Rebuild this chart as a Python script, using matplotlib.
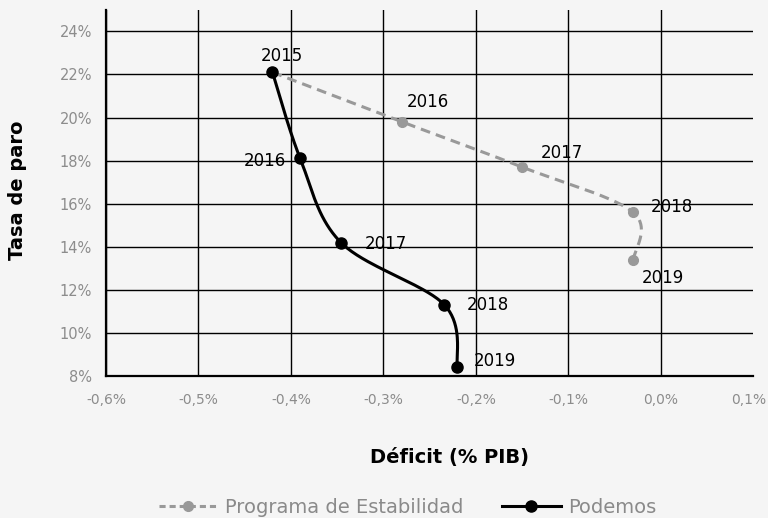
"""Tasa de paro vs deficit: Programa de Estabilidad frente a Podemos."""

import numpy as np
import matplotlib

matplotlib.use("Agg")
import matplotlib.pyplot as plt
import matplotlib.transforms as mtransforms
from matplotlib.ticker import FuncFormatter

plt.rcParams["font.family"] = ["DejaVu Sans"]

years = ["2015", "2016", "2017", "2018", "2019"]

# Programa de Estabilidad
pe_deficit = [-0.42, -0.28, -0.15, -0.03, -0.03]
pe_paro = [22.1, 19.8, 17.7, 15.6, 13.4]

# Podemos
pod_deficit = [-0.42, -0.39, -0.346, -0.234, -0.22]
pod_paro = [22.1, 18.1, 14.2, 11.3, 8.4]

x_ticks = [-0.6, -0.5, -0.4, -0.3, -0.2, -0.1, 0.0, 0.1]
y_ticks = [8, 10, 12, 14, 16, 18, 20, 22, 24]

# label offsets (points) and alignment for each year
pe_offsets = [None, (3.5, 14), (13.5, 10), (13, 4), (6.5, -13)]
pod_offsets = [(7, 12), (-10, -2), (17, -1), (16, 0), (11.5, 5)]
pod_align = ["center", "right", "left", "left", "left"]

BG = "#f5f5f5"
GRAY = "#999999"
TICK_GRAY = "#8c8c8c"


def smooth(ax, xs, ys, n=40):
    """Excel-like smoothed line (Catmull-Rom bezier) in display space."""
    pts = ax.transData.transform(np.column_stack([xs, ys]))
    ext = np.vstack([pts[0], pts, pts[-1]])
    out = []
    t = np.linspace(0, 1, n)[:, None]
    for i in range(len(pts) - 1):
        p0, p1, p2, p3 = ext[i], ext[i + 1], ext[i + 2], ext[i + 3]
        c1 = p1 + (p2 - p0) / 6
        c2 = p2 - (p3 - p1) / 6
        seg = ((1 - t) ** 3) * p1 + 3 * ((1 - t) ** 2) * t * c1 \
            + 3 * (1 - t) * t ** 2 * c2 + t ** 3 * p2
        out.append(seg if i == 0 else seg[1:])
    curve = ax.transData.inverted().transform(np.vstack(out))
    return curve[:, 0], curve[:, 1]


fig = plt.figure(figsize=(7.68, 5.18), dpi=100, facecolor=BG)
ax = fig.add_axes([0.138, 0.274, 0.843, 0.707], facecolor=BG)

ax.set_xlim(-0.6, 0.1)
ax.set_ylim(8, 25)
ax.set_xticks(x_ticks)
ax.set_yticks(y_ticks)
ax.xaxis.set_major_formatter(
    FuncFormatter(lambda v, p: f"{round(v, 1) + 0.0:.1f}%".replace(".", ","))
)
ax.yaxis.set_major_formatter(FuncFormatter(lambda v, p: f"{v:.0f}%"))
ax.tick_params(length=0, labelcolor=TICK_GRAY)
ax.tick_params(axis="y", pad=10, labelsize=10.5)
ax.tick_params(axis="x", pad=12, labelsize=10)

# keep the last x label inside the canvas
last = ax.xaxis.get_major_ticks()[-1].label1
last.set_transform(last.get_transform()
                   + mtransforms.ScaledTranslation(-5 / 100, 0, fig.dpi_scale_trans))

ax.grid(True, color="black", linewidth=1.0)
ax.set_axisbelow(True)
ax.xaxis.get_gridlines()[-1].set_visible(False)
for side in ("top", "right"):
    ax.spines[side].set_visible(False)
for side in ("left", "bottom"):
    ax.spines[side].set_linewidth(1.6)
    ax.spines[side].set_color("black")

# Programa de Estabilidad
sx, sy = smooth(ax, pe_deficit, pe_paro)
ax.plot(sx, sy, color=GRAY, linewidth=2.2, linestyle=(0, (3.2, 2)), zorder=3)
ax.plot(pe_deficit[1:], pe_paro[1:], "o", color=GRAY, markersize=7, zorder=4)

# Podemos
sx, sy = smooth(ax, pod_deficit, pod_paro)
ax.plot(sx, sy, color="black", linewidth=2.2, zorder=5)
ax.plot(pod_deficit, pod_paro, "o", color="black", markersize=8, zorder=6)

for i, yr in enumerate(years):
    if pe_offsets[i] is not None:
        ax.annotate(yr, (pe_deficit[i], pe_paro[i]), xytext=pe_offsets[i],
                    textcoords="offset points", ha="left", va="center",
                    fontsize=12, color="black", zorder=7)
    ax.annotate(yr, (pod_deficit[i], pod_paro[i]), xytext=pod_offsets[i],
                textcoords="offset points", ha=pod_align[i], va="center",
                fontsize=12, color="black", zorder=7)

fig.text(450 / 768, 1 - 457 / 518, "Déficit (% PIB)", ha="center", va="center",
         fontsize=14, fontweight="bold", color="black")
fig.text(18 / 768, 1 - 190 / 518, "Tasa de paro", ha="center", va="center",
         rotation=90, fontsize=14, fontweight="bold", color="black")

h1, = ax.plot([], [], color=GRAY, linewidth=2.2, linestyle=(0, (2, 1.3)),
              marker="o", markersize=7)
h2, = ax.plot([], [], color="black", linewidth=2.2, marker="o", markersize=8)
leg = fig.legend([h1, h2], ["Programa de Estabilidad", "Podemos"],
                 loc="center", bbox_to_anchor=(0.531, 0.02), ncol=2,
                 frameon=False, fontsize=14, handlelength=3.0,
                 columnspacing=2.0, handletextpad=0.4)
for txt in leg.get_texts():
    txt.set_color("#8a8a8a")

fig.savefig("out.png", dpi=100, facecolor=BG)
plt.close(fig)
